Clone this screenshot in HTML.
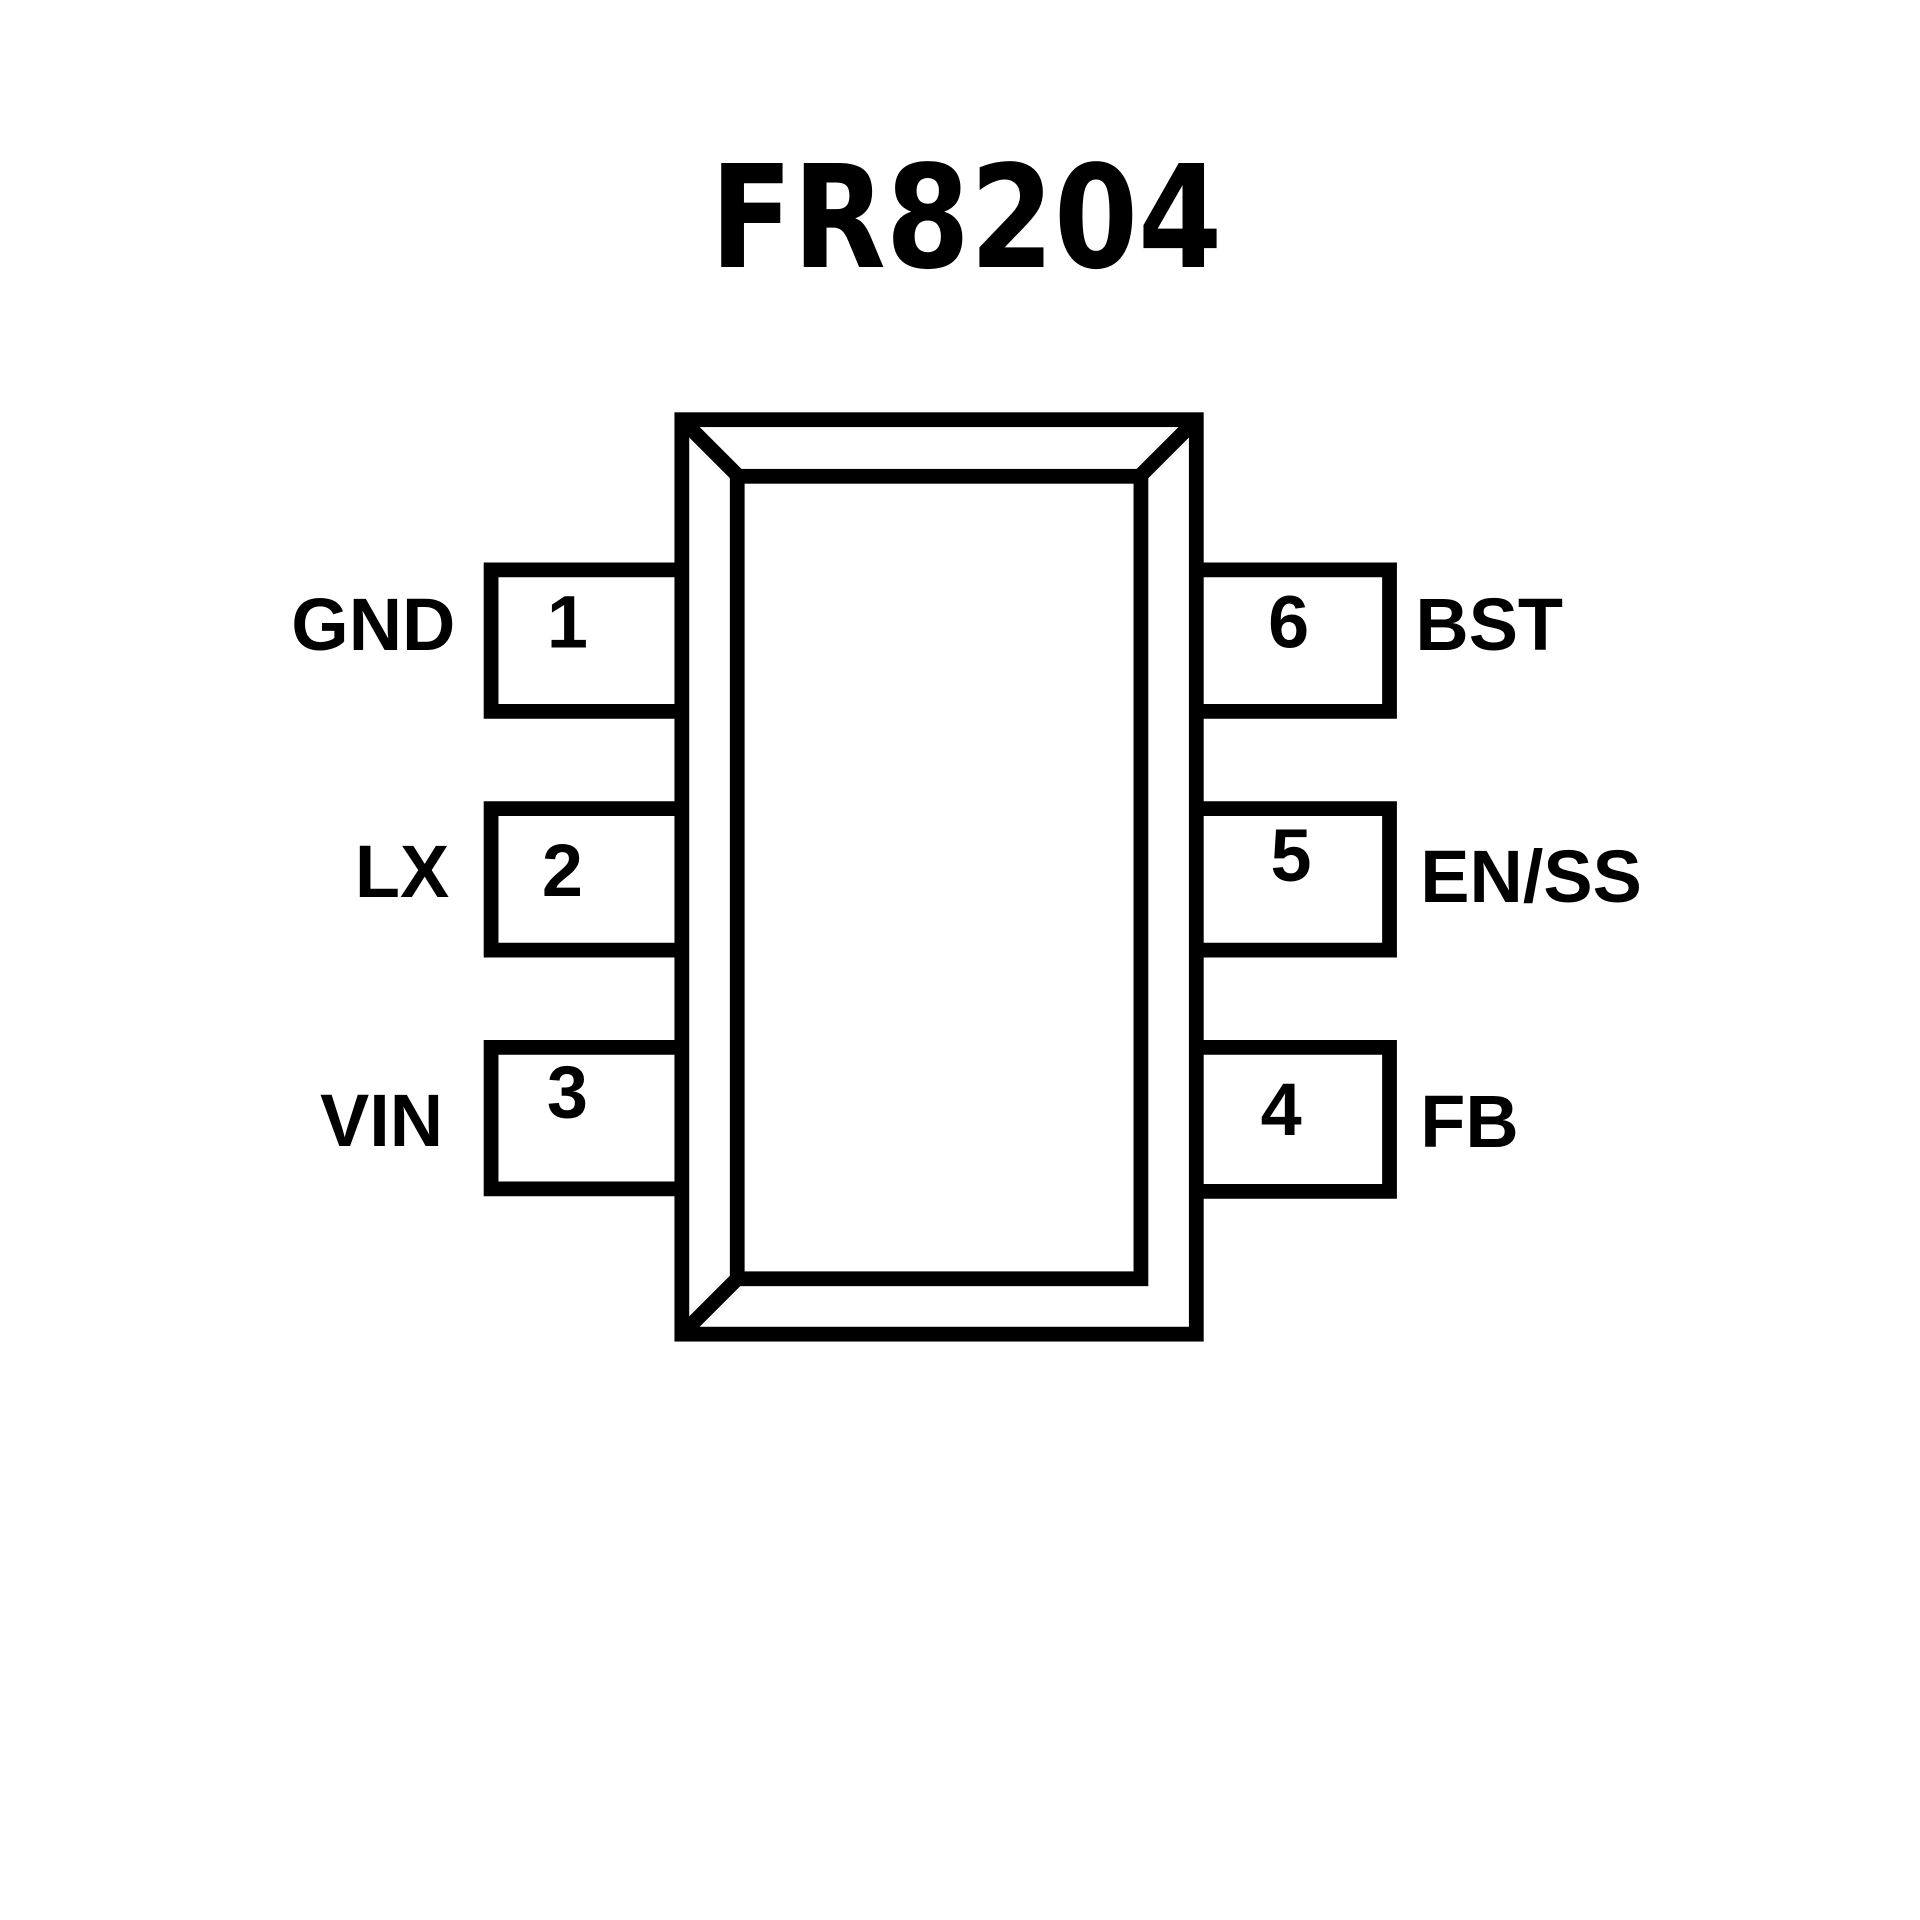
<!DOCTYPE html>
<html><head><meta charset="utf-8"><style>html,body{margin:0;padding:0;background:#fff}svg{display:block}</style></head>
<body>
<svg width="1920" height="1920" viewBox="0 0 1560 1560" xmlns="http://www.w3.org/2000/svg">
<rect width="1560" height="1560" fill="#fff"/>
<g fill="none" stroke="#000" stroke-width="12" stroke-linejoin="miter" stroke-linecap="square">
<rect x="554" y="341" width="418" height="743"/>
<rect x="599" y="387" width="328" height="652"/>
<line x1="557" y1="344" x2="599" y2="386"/>
<line x1="969" y1="344" x2="927" y2="386"/>
<line x1="557" y1="1081" x2="599" y2="1039"/>
<polyline points="548,463 399,463 399,578 548,578"/>
<polyline points="548,657 399,657 399,772 548,772"/>
<polyline points="548,851 399,851 399,966 548,966"/>
<polyline points="978,463 1129,463 1129,578 978,578"/>
<polyline points="978,657 1129,657 1129,772 978,772"/>
<polyline points="978,851 1129,851 1129,968 978,968"/>
</g>
<text x="577" y="217" font-family="DejaVu Sans, sans-serif" font-weight="bold" font-size="116" textLength="416" lengthAdjust="spacingAndGlyphs">FR8204</text>
<g font-family="Liberation Sans, Arial, sans-serif" font-weight="bold" font-size="60">
<text x="370" y="528" text-anchor="end">GND</text>
<text x="461" y="526" text-anchor="middle">1</text>
<text x="365" y="729" text-anchor="end">LX</text>
<text x="457" y="728" text-anchor="middle">2</text>
<text x="360" y="931" text-anchor="end">VIN</text>
<text x="461" y="908" text-anchor="middle">3</text>
<text x="1047" y="526" text-anchor="middle">6</text>
<text x="1150" y="528">BST</text>
<text x="1049" y="716" text-anchor="middle">5</text>
<text x="1154" y="733">EN/SS</text>
<text x="1041" y="922" text-anchor="middle">4</text>
<text x="1154" y="932">FB</text>
</g>
</svg>
</body></html>
